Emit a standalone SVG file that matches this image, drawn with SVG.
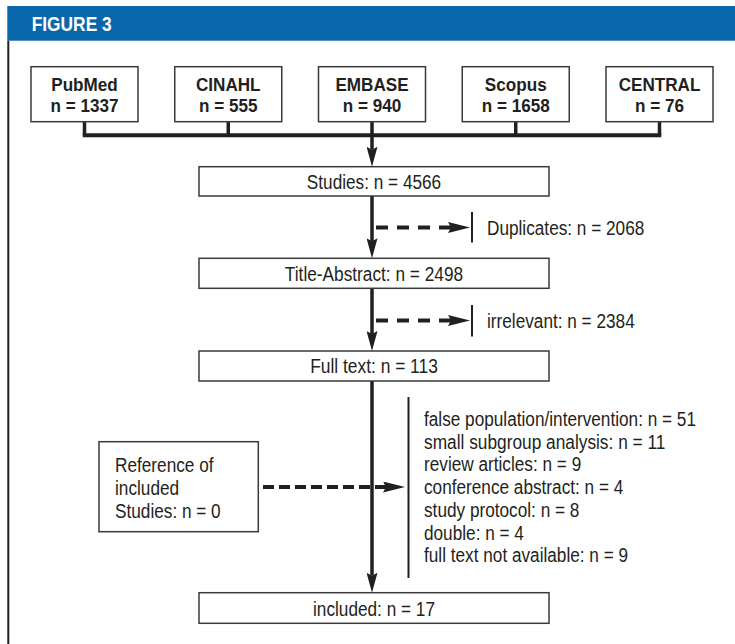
<svg xmlns="http://www.w3.org/2000/svg" width="735" height="644" viewBox="0 0 735 644">
<style>
.box{fill:#fff;stroke:#3a3a3a;stroke-width:1.5}
.t{font-family:"Liberation Sans",Arial,sans-serif;font-size:20px;fill:#231f20}
.b{font-family:"Liberation Sans",Arial,sans-serif;font-size:19px;font-weight:bold;fill:#231f20}
.m{text-anchor:middle}
.ln{fill:none;stroke:#231f20;stroke-width:3.5}
.dash{fill:none;stroke:#231f20;stroke-width:4}
.bar{fill:none;stroke:#231f20;stroke-width:2}
</style>
<defs>
<marker id="ah" markerUnits="userSpaceOnUse" viewBox="0 0 20 11" markerWidth="20" markerHeight="11" refX="3" refY="5.5" orient="auto"><path d="M0,0 L20,5.5 L0,11 L3,5.5 Z" fill="#231f20"/></marker>
<marker id="ahr" markerUnits="userSpaceOnUse" viewBox="0 0 22 11" markerWidth="22" markerHeight="11" refX="3" refY="5.5" orient="auto-start-reverse"><path d="M0,0 L22,5.5 L0,11 L3,5.5 Z" fill="#231f20"/></marker>
</defs>
<rect width="735" height="644" fill="#fff"/>
<g id="header">
<rect x="7.3" y="6" width="727.7" height="34.7" fill="#0866ab"/>
<text x="31.7" y="30.7" font-family="'Liberation Sans',Arial,sans-serif" font-size="19.5" font-weight="bold" fill="#fff" textLength="80" lengthAdjust="spacingAndGlyphs">FIGURE 3</text>
<line x1="8.3" y1="40.7" x2="8.3" y2="644" stroke="#231f20" stroke-width="2"/>
</g>
<g id="connectors">
<path class="ln" d="M84.5,121.7V135.3M228.25,121.7V135.3M372,121.7V135.3M515.75,121.7V135.3M659.5,121.7V135.3"/>
<path d="M82.75,135.3H661.25" stroke="#231f20" stroke-width="4" fill="none"/>
<path class="ln" d="M372,135.3V149.7" marker-end="url(#ah)"/>
<path class="ln" d="M372,196V241.3" marker-end="url(#ah)"/>
<path class="ln" d="M372,288.3V334" marker-end="url(#ah)"/>
<path class="ln" d="M372,381V575.7" marker-end="url(#ah)"/>
<path class="dash" d="M451,227.5H372" stroke-dasharray="12 9" marker-start="url(#ahr)"/>
<path class="dash" d="M451,320.5H372" stroke-dasharray="12 9" marker-start="url(#ahr)"/>
<path class="dash" d="M386,487H258" stroke-dasharray="11 5" marker-start="url(#ahr)"/>
</g>
<g id="pubmed">
<rect class="box" x="31" y="66.7" width="107" height="55"/>
<text class="b m" x="84.5" y="90.7" textLength="66.5" lengthAdjust="spacingAndGlyphs">PubMed</text>
<text class="b m" x="84.5" y="112.3" textLength="68" lengthAdjust="spacingAndGlyphs">n = 1337</text>
</g>
<g id="cinahl">
<rect class="box" x="174.75" y="66.7" width="107" height="55"/>
<text class="b m" x="228.25" y="90.7" textLength="64.6" lengthAdjust="spacingAndGlyphs">CINAHL</text>
<text class="b m" x="228.25" y="112.3" textLength="58.5" lengthAdjust="spacingAndGlyphs">n = 555</text>
</g>
<g id="embase">
<rect class="box" x="318.5" y="66.7" width="107" height="55"/>
<text class="b m" x="372" y="90.7" textLength="73.2" lengthAdjust="spacingAndGlyphs">EMBASE</text>
<text class="b m" x="372" y="112.3" textLength="58.5" lengthAdjust="spacingAndGlyphs">n = 940</text>
</g>
<g id="scopus">
<rect class="box" x="462.25" y="66.7" width="107" height="55"/>
<text class="b m" x="515.75" y="90.7" textLength="61.8" lengthAdjust="spacingAndGlyphs">Scopus</text>
<text class="b m" x="515.75" y="112.3" textLength="68" lengthAdjust="spacingAndGlyphs">n = 1658</text>
</g>
<g id="central">
<rect class="box" x="606" y="66.7" width="107" height="55"/>
<text class="b m" x="659.5" y="90.7" textLength="81.7" lengthAdjust="spacingAndGlyphs">CENTRAL</text>
<text class="b m" x="659.5" y="112.3" textLength="49" lengthAdjust="spacingAndGlyphs">n = 76</text>
</g>
<g id="studies">
<rect class="box" x="199" y="166.7" width="350" height="29.3"/>
<text class="t m" x="374" y="189" textLength="134.3" lengthAdjust="spacingAndGlyphs">Studies: n = 4566</text>
</g>
<g id="duplicates">
<line class="bar" x1="472" y1="212" x2="472" y2="242.5"/>
<text class="t" x="487" y="234.5" textLength="157.3" lengthAdjust="spacingAndGlyphs">Duplicates: n = 2068</text>
</g>
<g id="title-abstract">
<rect class="box" x="199" y="258.3" width="350" height="30"/>
<text class="t m" x="374" y="280.5" textLength="178.3" lengthAdjust="spacingAndGlyphs">Title-Abstract: n = 2498</text>
</g>
<g id="irrelevant">
<line class="bar" x1="472" y1="305" x2="472" y2="336.5"/>
<text class="t" x="487" y="327.5" textLength="147.7" lengthAdjust="spacingAndGlyphs">irrelevant: n = 2384</text>
</g>
<g id="fulltext">
<rect class="box" x="199" y="351" width="350" height="30"/>
<text class="t m" x="374" y="373" textLength="127.6" lengthAdjust="spacingAndGlyphs">Full text: n = 113</text>
</g>
<g id="reference">
<rect class="box" x="99" y="441.7" width="159.3" height="90"/>
<text class="t" x="115" y="471.5" textLength="98.5" lengthAdjust="spacingAndGlyphs">Reference of</text>
<text class="t" x="115" y="494.5" textLength="64.1" lengthAdjust="spacingAndGlyphs">included</text>
<text class="t" x="115" y="517.5" textLength="105.7" lengthAdjust="spacingAndGlyphs">Studies: n = 0</text>
</g>
<g id="exclusions">
<line class="bar" x1="408.5" y1="397" x2="408.5" y2="578"/>
<text class="t" x="424" y="426" textLength="272" lengthAdjust="spacingAndGlyphs">false population/intervention: n = 51</text>
<text class="t" x="424" y="448.7" textLength="241.4" lengthAdjust="spacingAndGlyphs">small subgroup analysis: n = 11</text>
<text class="t" x="424" y="471.4" textLength="157.2" lengthAdjust="spacingAndGlyphs">review articles: n = 9</text>
<text class="t" x="424" y="494.1" textLength="199.3" lengthAdjust="spacingAndGlyphs">conference abstract: n = 4</text>
<text class="t" x="424" y="516.8" textLength="155.4" lengthAdjust="spacingAndGlyphs">study protocol: n = 8</text>
<text class="t" x="424" y="539.5" textLength="99.9" lengthAdjust="spacingAndGlyphs">double: n = 4</text>
<text class="t" x="424" y="562.2" textLength="204.1" lengthAdjust="spacingAndGlyphs">full text not available: n = 9</text>
</g>
<g id="included">
<rect class="box" x="199" y="592.7" width="350" height="30.6"/>
<text class="t m" x="374" y="615.5" textLength="121.9" lengthAdjust="spacingAndGlyphs">included: n = 17</text>
</g>
</svg>
